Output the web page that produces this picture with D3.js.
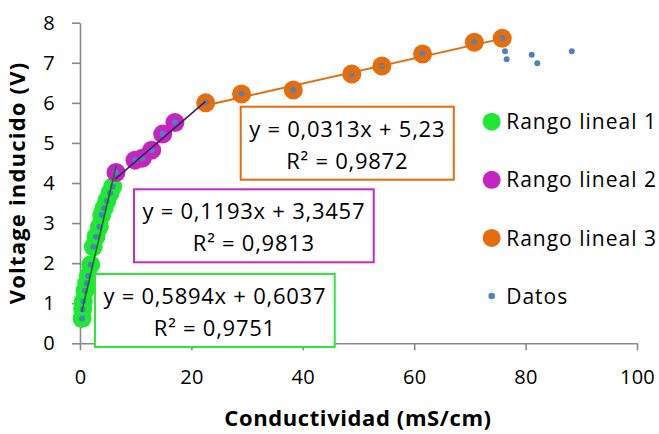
<!doctype html>
<html>
<head>
<style>
  body { margin: 0; background: #fff; }
  text { font-family: "Open Sans", Lato, sans-serif; fill: #000; }
</style>
<script src="https://cdn.jsdelivr.net/npm/d3@7"></script>
</head>
<body>
<svg width="659" height="434"></svg>
<script>

// [conductividad mS/cm, voltage V]
var rango1 = [[0.36,0.62],[0.48,0.85],[0.59,1.04],[0.9,1.31],[1.2,1.5],[1.49,1.68],[1.92,1.96],[2.39,2.41],
              [2.87,2.66],[3.47,2.91],[3.9,3.2],[4.31,3.37],[4.79,3.55],[5.39,3.75],[5.87,3.91]];
var rango2 = [[6.46,4.26],[9.87,4.57],[11.18,4.62],[12.87,4.82],[14.85,5.22],[17.04,5.51]];
var rango3 = [[22.57,6.0],[29.0,6.22],[38.3,6.32],[48.8,6.72],[54.2,6.92],[61.5,7.22],[70.8,7.51],[75.8,7.61]];
var otros  = [[76.3,7.29],[76.6,7.09],[81.1,7.2],[82.1,6.99],[88.3,7.29]];

// trendlines: slope, intercept, x range
var tendencias = [
  {m: 0.5894, b: 0.6037, x0: 0.3, x1: 6.5, color: "#1d6b1d", w: 1.6},
  {m: 0.1193, b: 3.3457, x0: 6.3, x1: 22.5, color: "#3b1f5c", w: 1.6},
  {m: 0.0313, b: 5.23,   x0: 22.5, x1: 75.8, color: "#e46c0a", w: 2}
];
var etiquetas = [
  {l1: "y = 0,5894x + 0,6037", l2: "R² = 0,9751", x: 95,    y: 274,   color: "#2ee83a"},
  {l1: "y = 0,1193x + 3,3457", l2: "R² = 0,9813", x: 134,   y: 189.3, color: "#c42ac2"},
  {l1: "y = 0,0313x + 5,23",   l2: "R² = 0,9872", x: 240.7, y: 106.7, color: "#e46c0a"}
];
var series = ["Rango lineal 1", "Rango lineal 2", "Rango lineal 3", "Datos"];
var colores = ["#1fe835", "#c425c0", "#e66d0d", "#4f81bd"];
var xTicks = [0, 20, 40, 60, 80, 100];
var yTicks = [0, 1, 2, 3, 4, 5, 6, 7, 8];

var svg = d3.select("svg");
var x = d3.scaleLinear().domain([0, 100]).range([80, 637]);
var y = d3.scaleLinear().domain([0, 8]).range([343.3, 22.7]);

// axes
var xAxis = svg.append("g")
  .attr("transform", "translate(0," + y(0) + ")")
  .call(d3.axisBottom(x).tickValues(xTicks).tickSize(7).tickPadding(20).tickSizeOuter(0));
var yAxis = svg.append("g")
  .attr("transform", "translate(" + x(0) + ",0)")
  .call(d3.axisLeft(y).tickValues(yTicks).tickSize(8).tickPadding(17).tickSizeOuter(0));

[xAxis, yAxis].forEach(function(a) {
  a.selectAll("path, line").attr("stroke", "#898989").attr("stroke-width", 1.6);
  a.selectAll("text").attr("font-family", "Open Sans").attr("font-size", 20)
    .attr("letter-spacing", 0.3).attr("fill", "#000");
});

svg.append("text")
  .attr("x", 358).attr("y", 426)
  .attr("text-anchor", "middle")
  .attr("font-size", 22).attr("font-weight", "bold").attr("letter-spacing", 0.6)
  .text("Conductividad (mS/cm)");
svg.append("text")
  .attr("transform", "translate(25,183) rotate(-90)")
  .attr("text-anchor", "middle")
  .attr("font-size", 22).attr("font-weight", "bold").attr("letter-spacing", 1.2)
  .text("Voltage inducido (V)");

// colored range markers
[rango1, rango2, rango3].forEach(function(d, i) {
  svg.append("g").selectAll("circle")
    .data(d).enter().append("circle")
    .attr("cx", function(p) { return x(p[0]); })
    .attr("cy", function(p) { return y(p[1]); })
    .attr("r", 9.5)
    .attr("fill", colores[i]);
});

// all data points
svg.append("g").selectAll("circle")
  .data(rango1.concat(rango2, rango3, otros)).enter().append("circle")
  .attr("cx", function(p) { return x(p[0]); })
  .attr("cy", function(p) { return y(p[1]); })
  .attr("r", 3)
  .attr("fill", colores[3]);

// trendlines
svg.append("g").selectAll("line")
  .data(tendencias).enter().append("line")
  .attr("x1", function(t) { return x(t.x0); })
  .attr("y1", function(t) { return y(t.m * t.x0 + t.b); })
  .attr("x2", function(t) { return x(t.x1); })
  .attr("y2", function(t) { return y(t.m * t.x1 + t.b); })
  .attr("stroke", function(t) { return t.color; })
  .attr("stroke-width", function(t) { return t.w; });

// equation labels
etiquetas.forEach(function(e) {
  var g = svg.append("g");
  var rect = g.append("rect");
  var t1 = g.append("text").attr("font-size", 22).attr("letter-spacing", 0.75)
    .attr("x", e.x + 8.5).attr("y", e.y + 30).text(e.l1);
  var w = t1.node().getBBox().width + 17;
  var t2 = g.append("text").attr("font-size", 22).attr("letter-spacing", 0.75)
    .attr("text-anchor", "middle")
    .attr("x", e.x + w / 2).attr("y", e.y + 62).text(e.l2);
  rect.attr("x", e.x).attr("y", e.y).attr("width", w).attr("height", 73)
    .attr("fill", "#fff").attr("stroke", e.color).attr("stroke-width", 2);
});

// legend
var leg = svg.append("g").selectAll("g")
  .data(series).enter().append("g")
  .attr("transform", function(d, i) { return "translate(491.7," + (121.7 + i * 58.1) + ")"; });
leg.append("circle")
  .attr("r", function(d, i) { return i < 3 ? 9 : 3.3; })
  .attr("fill", function(d, i) { return colores[i]; });
leg.append("text")
  .attr("x", 14.5).attr("y", 7.6)
  .attr("font-size", 21).attr("letter-spacing", 1)
  .text(function(d) { return d; });

</script>
</body>
</html>
